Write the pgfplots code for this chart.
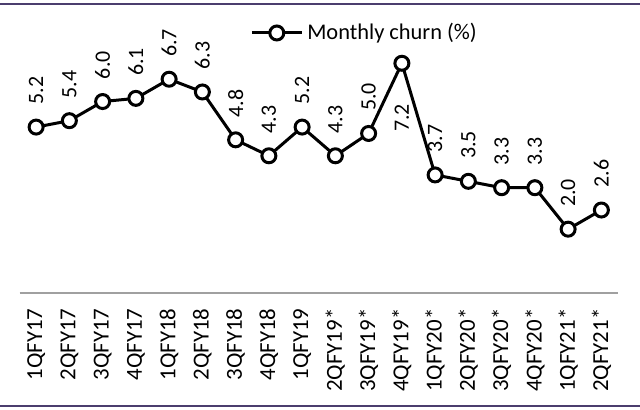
\documentclass[border=0pt]{standalone}
\usepackage{fontspec}
\setmainfont{Carlito}
\usepackage{pgfplots}
\usepackage{pgfplotstable}
\pgfplotsset{compat=1.18}
\definecolor{framepurple}{RGB}{75,62,110}
\definecolor{axisgray}{RGB}{160,160,160}

% monthly churn (%), dy = label offset above the point (bp)
\pgfplotstableread{
x y lbl dy
0 5.2 5.2 10.5
1 5.4 5.4 10.5
2 6.0 6.0 10.5
3 6.1 6.1 10.5
4 6.7 6.7 10.5
5 6.3 6.3 10.5
6 4.8 4.8 10.5
7 4.3 4.3 10.5
8 5.2 5.2 10.5
9 4.3 4.3 10.5
10 5.0 5.0 10.5
11 7.2 7.2 -35
12 3.7 3.7 10.5
13 3.5 3.5 10.5
14 3.3 3.3 10.5
15 3.3 3.3 10.5
16 2.0 2.0 10.5
17 2.6 2.6 10.5
}\churn

\begin{document}
\begin{tikzpicture}
\begin{axis}[
  at={(9.75bp,58.5bp)}, anchor=south west,
  scale only axis, width=299.25bp, height=140.4bp,
  xmin=-0.5, xmax=17.5, ymin=0, ymax=8.8,
  axis x line*=bottom, axis y line=none,
  x axis line style={axisgray, line width=1bp, -},
  xtick=data,
  xticklabels={1QFY17,2QFY17,3QFY17,4QFY17,1QFY18,2QFY18,3QFY18,4QFY18,1QFY19,
    2QFY19*,3QFY19*,4QFY19*,1QFY20*,2QFY20*,3QFY20*,4QFY20*,1QFY21*,2QFY21*},
  major tick length=0pt,
  xticklabel style={yshift=-7.5bp, rotate=90, anchor=east, inner sep=0pt,
    font=\fontsize{11.5}{13}\selectfont},
  clip=false,
  nodes near coords,
  point meta=explicit symbolic,
  visualization depends on={\thisrow{dy} \as \dy},
  every node near coord/.style={yshift=\dy bp, rotate=90, anchor=west,
    inner sep=0pt, font=\fontsize{11}{13}\selectfont},
  legend style={draw=none, fill=none, at={(0.385,0.926)}, anchor=west,
    inner sep=0pt, font=\fontsize{11.25}{13}\selectfont},
  legend image code/.code={\draw[#1, mark repeat=2, mark phase=2]
    plot coordinates {(0bp,0bp)(12.5bp,0bp)(25bp,0bp)};},
]
\addplot[black, line width=1.5bp, mark=*, mark size=3.5bp,
  mark options={fill=white, draw=black, solid}]
  table[x=x, y=y, meta=lbl]{\churn};
\legend{Monthly churn (\%)}
\end{axis}
\draw[framepurple, line width=1bp] (0,203bp) -- (320bp,203bp);
\draw[framepurple, line width=1bp] (0,2bp) -- (320bp,2bp);
\pgfresetboundingbox
\path (0,0) rectangle (320bp,205bp);
\end{tikzpicture}
\end{document}
